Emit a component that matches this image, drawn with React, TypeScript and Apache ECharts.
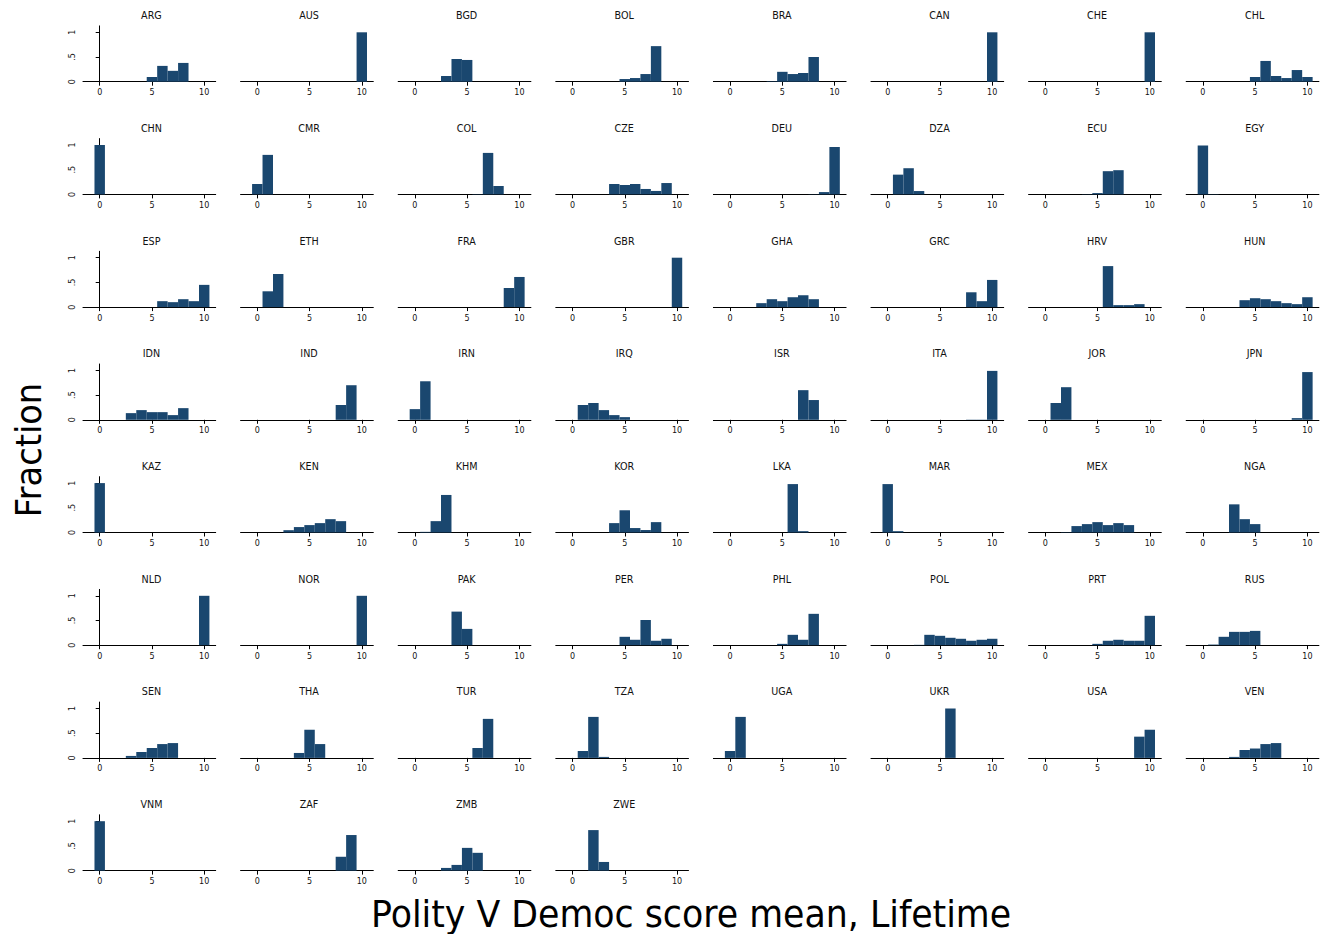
import React, { useEffect, useRef } from "react";
import * as echarts from "echarts";

const countries: string[] = [
  "ARG", "AUS", "BGD", "BOL", "BRA", "CAN", "CHE", "CHL",
  "CHN", "CMR", "COL", "CZE", "DEU", "DZA", "ECU", "EGY",
  "ESP", "ETH", "FRA", "GBR", "GHA", "GRC", "HRV", "HUN",
  "IDN", "IND", "IRN", "IRQ", "ISR", "ITA", "JOR", "JPN",
  "KAZ", "KEN", "KHM", "KOR", "LKA", "MAR", "MEX", "NGA",
  "NLD", "NOR", "PAK", "PER", "PHL", "POL", "PRT", "RUS",
  "SEN", "THA", "TUR", "TZA", "UGA", "UKR", "USA", "VEN",
  "VNM", "ZAF", "ZMB", "ZWE",
];

// bin centres (Polity V Democ score, width-1 bins)
const bins: number[] = [0, 1, 2, 3, 4, 5, 6, 7, 8, 9, 10];

// fraction per bin, one row per country (same order as countries)
const fractions: number[][] = [
  [0, 0, 0, 0, 0, 0.095, 0.32, 0.22, 0.38, 0, 0], // ARG
  [0, 0, 0, 0, 0, 0, 0, 0, 0, 0, 1], // AUS
  [0, 0, 0, 0.115, 0.46, 0.44, 0, 0, 0, 0, 0], // BGD
  [0, 0, 0, 0, 0, 0.054, 0.074, 0.155, 0.72, 0, 0], // BOL
  [0, 0, 0, 0, 0.01, 0.2, 0.155, 0.176, 0.5, 0, 0], // BRA
  [0, 0, 0, 0, 0, 0, 0, 0, 0, 0, 1], // CAN
  [0, 0, 0, 0, 0, 0, 0, 0, 0, 0, 1], // CHE
  [0, 0, 0, 0, 0, 0.095, 0.42, 0.115, 0.074, 0.236, 0.095], // CHL
  [1, 0, 0, 0, 0, 0, 0, 0, 0, 0, 0], // CHN
  [0.21, 0.8, 0, 0, 0, 0, 0, 0, 0, 0, 0], // CMR
  [0, 0, 0, 0, 0, 0, 0.007, 0.84, 0.17, 0, 0], // COL
  [0, 0, 0, 0, 0.21, 0.19, 0.21, 0.11, 0.07, 0.23, 0], // CZE
  [0, 0, 0, 0, 0, 0, 0, 0, 0.005, 0.047, 0.96], // DEU
  [0, 0.4, 0.53, 0.068, 0, 0, 0, 0, 0, 0, 0], // DZA
  [0, 0, 0, 0, 0.005, 0.027, 0.47, 0.49, 0, 0, 0], // ECU
  [0.99, 0.006, 0, 0, 0, 0, 0, 0, 0, 0, 0], // EGY
  [0, 0, 0, 0, 0, 0, 0.12, 0.1, 0.16, 0.12, 0.45], // ESP
  [0, 0.32, 0.67, 0, 0, 0, 0, 0, 0, 0, 0], // ETH
  [0, 0, 0, 0, 0, 0, 0, 0, 0, 0.385, 0.61], // FRA
  [0, 0, 0, 0, 0, 0, 0, 0, 0, 0, 1], // GBR
  [0, 0, 0, 0.08, 0.16, 0.12, 0.2, 0.24, 0.16, 0, 0], // GHA
  [0, 0, 0, 0, 0, 0, 0, 0, 0.3, 0.12, 0.55], // GRC
  [0, 0, 0, 0, 0, 0, 0.83, 0.04, 0.04, 0.06, 0], // HRV
  [0, 0, 0, 0, 0.14, 0.18, 0.16, 0.12, 0.08, 0.06, 0.2], // HUN
  [0, 0, 0, 0.135, 0.196, 0.155, 0.155, 0.095, 0.236, 0, 0], // IDN
  [0, 0, 0, 0, 0, 0, 0, 0, 0.3, 0.7, 0], // IND
  [0.216, 0.78, 0, 0, 0, 0, 0, 0, 0, 0, 0], // IRN
  [0, 0.3, 0.34, 0.196, 0.095, 0.054, 0, 0, 0, 0, 0], // IRQ
  [0, 0, 0, 0, 0, 0, 0, 0.6, 0.4, 0, 0], // ISR
  [0, 0, 0, 0, 0, 0, 0, 0, 0.005, 0.005, 0.99], // ITA
  [0, 0.34, 0.66, 0, 0, 0, 0, 0, 0, 0, 0], // JOR
  [0, 0, 0, 0, 0, 0, 0, 0, 0, 0.034, 0.966], // JPN
  [1, 0, 0, 0, 0, 0, 0, 0, 0, 0, 0], // KAZ
  [0, 0, 0, 0.047, 0.11, 0.15, 0.19, 0.27, 0.23, 0, 0], // KEN
  [0, 0.013, 0.23, 0.76, 0, 0, 0, 0, 0, 0, 0], // KHM
  [0, 0, 0, 0, 0.19, 0.45, 0.09, 0.05, 0.21, 0, 0], // KOR
  [0, 0, 0, 0, 0, 0, 0.98, 0.027, 0, 0, 0], // LKA
  [0.98, 0.027, 0, 0, 0, 0, 0, 0, 0, 0, 0], // MAR
  [0, 0, 0.007, 0.13, 0.17, 0.21, 0.15, 0.19, 0.15, 0, 0], // MEX
  [0, 0, 0, 0.57, 0.27, 0.17, 0, 0, 0, 0, 0], // NGA
  [0, 0, 0, 0, 0, 0, 0, 0, 0, 0, 1], // NLD
  [0, 0, 0, 0, 0, 0, 0, 0, 0, 0, 1], // NOR
  [0, 0, 0, 0, 0.68, 0.33, 0, 0, 0, 0, 0], // PAK
  [0, 0, 0, 0, 0, 0.17, 0.11, 0.51, 0.09, 0.13, 0], // PER
  [0, 0, 0, 0, 0, 0.027, 0.21, 0.11, 0.635, 0, 0], // PHL
  [0, 0, 0, 0.007, 0.21, 0.19, 0.15, 0.13, 0.09, 0.11, 0.13], // POL
  [0, 0, 0, 0, 0, 0.027, 0.09, 0.11, 0.09, 0.09, 0.595], // PRT
  [0, 0.013, 0.17, 0.27, 0.27, 0.29, 0, 0, 0, 0, 0], // RUS
  [0, 0, 0, 0.04, 0.12, 0.2, 0.28, 0.3, 0, 0, 0], // SEN
  [0, 0, 0, 0, 0.1, 0.57, 0.28, 0, 0, 0, 0], // THA
  [0, 0, 0, 0, 0, 0, 0.2, 0.79, 0, 0, 0], // TUR
  [0, 0.14, 0.83, 0.02, 0, 0, 0, 0, 0, 0, 0], // TZA
  [0.14, 0.83, 0, 0, 0, 0, 0, 0, 0, 0, 0], // UGA
  [0, 0, 0, 0, 0, 0, 1, 0, 0, 0, 0], // UKR
  [0, 0, 0, 0, 0, 0, 0, 0, 0, 0.43, 0.57], // USA
  [0, 0, 0, 0.02, 0.16, 0.19, 0.28, 0.3, 0, 0, 0], // VEN
  [1, 0, 0, 0, 0, 0, 0, 0, 0, 0, 0], // VNM
  [0, 0, 0, 0, 0, 0, 0, 0, 0.28, 0.72, 0], // ZAF
  [0, 0, 0, 0.054, 0.115, 0.46, 0.36, 0, 0, 0, 0], // ZMB
  [0, 0, 0.82, 0.175, 0, 0, 0, 0, 0, 0, 0], // ZWE
];

const xTickValues: number[] = [0, 5, 10];
const yTickValues: number[] = [0, 0.5, 1];
const yTickLabels: string[] = ["0", ".5", "1"];

const xTitle = "Polity V Democ score mean, Lifetime";
const yTitle = "Fraction";

// layout
const COLS = 8;
const X0 = 99.7;
const DX = 157.6;
const XUNIT = 10.45;
const Y0 = 81.7;
const DY = 112.7;
const YUNIT = 49.4;
const XMIN = -1.6;
const XMAX = 11.1;
const YMAX = 1.13;
const BAR = "#1a476f";
const FONT = "DejaVu Sans";

export default function App() {
  const ref = useRef<HTMLDivElement>(null);

  useEffect(() => {
    if (!ref.current) return;
    const chart = echarts.init(ref.current, undefined, { renderer: "svg" });

    const grids: any[] = [];
    const xAxes: any[] = [];
    const yAxes: any[] = [];
    const series: any[] = [];
    const graphics: any[] = [];

    countries.forEach((name, i) => {
      const r = Math.floor(i / COLS);
      const c = i % COLS;
      const zeroX = X0 + c * DX;
      const axisY = Y0 + r * DY;
      grids.push({
        left: zeroX + XMIN * XUNIT,
        width: (XMAX - XMIN) * XUNIT,
        top: axisY - YMAX * YUNIT,
        height: YMAX * YUNIT,
        containLabel: false,
        outerBoundsMode: "none",
      });
      xAxes.push({
        type: "value",
        gridIndex: i,
        min: XMIN,
        max: XMAX,
        axisLine: { show: true, onZero: false, lineStyle: { color: "#000", width: 1 } },
        axisTick: {
          show: true,
          length: 4,
          customValues: xTickValues,
          lineStyle: { color: "#000", width: 1 },
        },
        axisLabel: {
          customValues: xTickValues,
          fontSize: 8,
          margin: 7,
          color: "#111",
          fontFamily: FONT,
        },
        splitLine: { show: false },
      });
      const showY = c === 0;
      yAxes.push({
        type: "value",
        gridIndex: i,
        min: 0,
        max: YMAX,
        axisLine: { show: showY, lineStyle: { color: "#000", width: 1 } },
        axisTick: {
          show: showY,
          length: 4,
          customValues: yTickValues,
          lineStyle: { color: "#000", width: 1 },
        },
        axisLabel: {
          show: showY,
          customValues: yTickValues,
          rotate: 90,
          fontSize: 8,
          margin: 6,
          color: "#111",
          fontFamily: FONT,
          formatter: (v: number) => {
            const k = yTickValues.findIndex((t) => Math.abs(t - v) < 1e-9);
            return k >= 0 ? yTickLabels[k] : "";
          },
        },
        splitLine: { show: false },
      });
      series.push({
        type: "custom",
        xAxisIndex: i,
        yAxisIndex: i,
        data: bins
          .map((b, k) => [b, fractions[i][k]])
          .filter((d) => d[1] > 0),
        renderItem: (_params: any, api: any) => {
          const x = api.value(0);
          const y = api.value(1);
          const p1 = api.coord([x - 0.5, y]);
          const p2 = api.coord([x + 0.5, 0]);
          return {
            type: "rect",
            shape: { x: p1[0], y: p1[1], width: p2[0] - p1[0], height: p2[1] - p1[1] },
            style: { fill: BAR },
          };
        },
      });
      graphics.push({
        type: "text",
        x: zeroX + 5 * XUNIT - 0.5,
        y: axisY - 66,
        style: {
          text: name,
          fontSize: 9.6,
          fontFamily: FONT,
          fill: "#111",
          align: "center",
          verticalAlign: "middle",
        },
      });
    });

    graphics.push({
      type: "text",
      x: 29,
      y: 450,
      rotation: Math.PI / 2,
      scaleX: 0.935,
      style: {
        text: yTitle,
        fontSize: 36,
        fontFamily: FONT,
        fill: "#000",
        align: "center",
        verticalAlign: "middle",
      },
    });
    graphics.push({
      type: "text",
      x: 691,
      y: 914,
      scaleX: 0.94,
      style: {
        text: xTitle,
        fontSize: 37,
        fontFamily: FONT,
        fill: "#000",
        align: "center",
        verticalAlign: "middle",
      },
    });

    chart.setOption({
      animation: false,
      backgroundColor: "#fff",
      grid: grids,
      xAxis: xAxes,
      yAxis: yAxes,
      series,
      graphic: graphics,
    });

    return () => chart.dispose();
  }, []);

  return (
    <div
      ref={ref}
      style={{ position: "absolute", left: 0, top: 0, width: 1321, height: 934 }}
    />
  );
}
